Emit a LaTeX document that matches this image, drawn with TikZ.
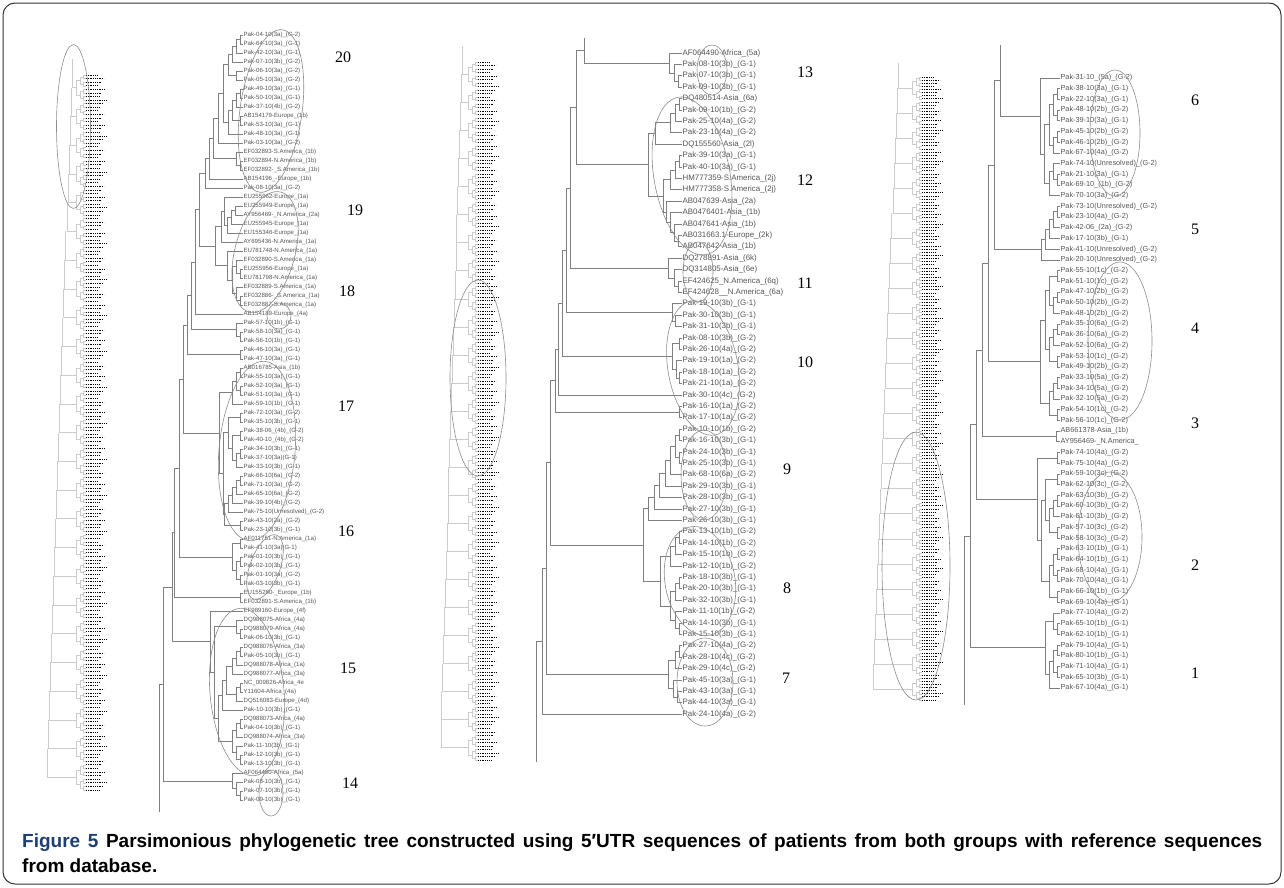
\documentclass[tikz,border=0pt]{standalone}
\usepackage{fontspec}
\setmainfont{Liberation Serif}
\newfontfamily\sansf{Liberation Sans}
\usetikzlibrary{calc}
\definecolor{brgrey}{HTML}{808080}
\definecolor{labgrey}{HTML}{555555}
\definecolor{thgrey}{HTML}{CCCCCC}
\definecolor{elgrey}{HTML}{8C8C8C}
\definecolor{figblue}{HTML}{1F3F73}
\newcommand\nd[4]{%
  \path let \p1=($(#3)!0.5!(#4)$) in coordinate (#1) at (#2pt,\y1);
  \draw[br] (#3) -- (#3 -| #1) -- (#4 -| #1) -- (#4);}
\newcommand\thumb[6]{%
 \pgfmathsetmacro\ts{(#5-#4)/#6}
 \foreach \i in {0,...,#6}{
  \pgfmathsetmacro\yy{#4+\i*\ts}
  \pgfmathsetmacro\ww{11+mod(\i*37,10)}
  \draw[thdot] (#3,\yy) -- ++(\ww,0);
  \draw[thbr] (#3-3,\yy) -- (#3,\yy);
  \pgfmathtruncatemacro\mtwo{mod(\i,2)}
  \pgfmathtruncatemacro\mfour{mod(\i,4)}
  \pgfmathtruncatemacro\meight{mod(\i,8)}
  \ifnum\mtwo=0 \draw[thbr] (#3-3,\yy) -- (#3-3,{\yy+\ts}) (#3-3,{\yy+0.5*\ts}) -- (#3-6,{\yy+0.5*\ts});\fi
  \ifnum\mfour=0 \draw[thbr] (#3-6,{\yy+0.5*\ts}) -- (#3-6,{\yy+2.5*\ts}) (#3-6,{\yy+1.5*\ts}) -- (#3-10,{\yy+1.5*\ts});\fi
  \ifnum\meight=0
    \pgfmathsetmacro\xb{#2+(#1-#2)*\i/#6}
    \draw[thbr] (#3-10,{\yy+1.5*\ts}) -- (#3-10,{\yy+5.5*\ts}) (#3-10,{\yy+3.5*\ts}) -- (\xb,{\yy+3.5*\ts}) -- (\xb,{\yy-4.5*\ts});
  \fi
 }}
\begin{document}
\begin{tikzpicture}[x=1pt,y=-1pt,
  br/.style={draw=brgrey,line width=0.7pt},
  thbr/.style={draw=thgrey,line width=0.5pt},
  thdot/.style={draw=black,line width=0.9pt,dash pattern=on 0.9pt off 0.9pt},
  ell/.style={draw=elgrey,line width=0.6pt},
  labL/.style={anchor=west,inner sep=0.4pt,text=labgrey,font=\sansf\fontsize{6.1}{6.1}\selectfont},
  labM/.style={labL,font=\sansf\fontsize{7.9}{7.9}\selectfont},
  labR/.style={labL,font=\sansf\fontsize{7.3}{7.3}\selectfont},
  num/.style={font=\fontsize{16}{16}\selectfont,inner sep=0pt}]
\useasboundingbox (0,0) rectangle (1284,887);
\draw[draw=black!80,line width=1pt,rounded corners=12pt] (3,3) rectangle (1281,884);

% thumbnails
\thumb{46}{72}{86}{75}{790}{199}
\thumb{440}{462}{478}{62}{760}{199}
\thumb{872}{898}{922}{77}{700}{199}
\draw[ell] (73.5,126.5) ellipse [x radius=17pt,y radius=82pt];
\draw[ell] (478,378) ellipse [x radius=28pt,y radius=98pt];
\draw[ell] (916,566) ellipse [x radius=34pt,y radius=134pt];

% ---------------- left panel
\begin{scope}[xshift=243pt]
\foreach \t [count=\i] in {Pak-04-10(3a)\_(G-2),Pak-64-10(3a)\_(G-1),Pak-42-10(3a)\_(G-1),Pak-07-10(3b)\_(G-2),Pak-06-10(3a)\_(G-2),Pak-05-10(3a)\_(G-2),Pak-49-10(3a)\_(G-1),Pak-50-10(3a)\_(G-1),Pak-37-10(4b)\_(G-2),AB154179-Europe\_(1b),Pak-53-10(3a)\_(G-1),Pak-48-10(3a)\_(G-1),Pak-03-10(3a)\_(G-2),EF032893-S.America\_(1b),EF032894-N.America\_(1b),EF032892-\_S.America\_(1b),AB154196\_-Europe\_(1b),Pak-08-10(3a)\_(G-2),EU255962-Europe\_(1a),EU255949-Europe\_(1a),AY956469-\_N.America\_(2a),EU255945-Europe\_(1a),EU155346-Europe\_(1a),AY695436-N.America\_(1a),EU781748-N.America\_(1a),EF032890-S.America\_(1a),EU255956-Europe\_(1a),EU781798-N.America\_(1a),EF032889-S.America\_(1a),EF032886-\_S.America\_(1a),EF032887-S.America\_(1a),AB154189-Europe\_(4a),Pak-57-10(1b)\_(G-1),Pak-58-10(3a)\_(G-1),Pak-56-10(1b)\_(G-1),Pak-46-10(3a)\_(G-1),Pak-47-10(3a)\_(G-1),AB016785-Asia\_(1b),Pak-55-10(3a)\_(G-1),Pak-52-10(3a)\_(G-1),Pak-51-10(3a)\_(G-1),Pak-59-10(1b)\_(G-1),Pak-72-10(3a)\_(G-2),Pak-35-10(3b)\_(G-1),Pak-38-06\_(4b)\_(G-2),Pak-40-10\_(4b)\_(G-2),Pak-34-10(3b)\_(G-1),Pak-37-10(3a)(G-1),Pak-33-10(3b)\_(G-1),Pak-66-10(6a)\_(G-2),Pak-71-10(3a)\_(G-2),Pak-65-10(6a)\_(G-2),Pak-39-10(4b)\_(G-2),Pak-75-10(Unresolved)\_(G-2),Pak-43-10(2a)\_(G-2),Pak-23-10(3b)\_(G-1),AF011751-N.America\_(1a),Pak-41-10(3a)(G-1),Pak-01-10(3b)\_(G-1),Pak-02-10(3b)\_(G-1),Pak-01-10(3a)\_(G-2),Pak-03-10(3b)\_(G-1),EU155280-\_Europe\_(1b),EF032891-S.America\_(1b),EF989160-Europe\_(4f),DQ988075-Africa\_(4a),DQ988079-Africa\_(4a),Pak-06-10(3b)\_(G-1),DQ988076-Africa\_(3a),Pak-05-10(3b)\_(G-1),DQ988078-Africa\_(1a),DQ988077-Africa\_(3a),NC\_009826-Africa\_4e,Y11604-Africa\_(4a),DQ516083-Europe\_(4d),Pak-10-10(3b)\_(G-1),DQ988073-Africa\_(4a),Pak-04-10(3b)\_(G-1),DQ988074-Africa\_(3a),Pak-11-10(3b)\_(G-1),Pak-12-10(3b)\_(G-1),Pak-13-10(3b)\_(G-1),AF064490-Africa\_(5a),Pak-08-10(3b)\_(G-1),Pak-07-10(3b)\_(G-1),Pak-09-10(3b)\_(G-1)}{
  \coordinate (a\i) at (0,{35+9*(\i-1)});
  \node[labL] (A\i) at (0,{35+9*(\i-1)}) {\t};
}
\nd{p1}{-2.5}{a1}{a2}
\nd{p2}{-6.5}{p1}{a3}
\nd{p3}{-10.5}{p2}{a4}
\nd{p4}{-6.5}{a5}{a6}
\nd{p5}{-15}{p3}{p4}
\nd{p6}{-2.5}{a7}{a8}
\nd{p7}{-6.5}{p6}{a9}
\nd{p8}{-2.5}{a10}{a11}
\nd{p9}{-10.5}{p7}{p8}
\nd{p10}{-15}{p9}{a12}
\nd{p11}{-20}{p5}{p10}
\nd{p12}{-25}{p11}{a13}
\nd{p13}{-2.5}{a15}{a16}
\nd{p14}{-6.5}{a14}{p13}
\nd{p15}{-30}{p12}{p14}
\nd{p16}{-34}{p15}{a17}
\nd{p17}{-38}{p16}{a18}
\nd{q1}{-8}{a20}{a21}
\nd{q2}{-12}{q1}{a22}
\nd{q3}{-16}{q2}{a23}
\nd{q4}{-19}{a19}{q3}
\nd{q5}{-22}{q4}{a24}
\nd{q6}{-3}{a27}{a28}
\nd{q7}{-7}{a26}{q6}
\nd{q8}{-3}{a30}{a31}
\nd{q9}{-7}{a29}{q8}
\nd{q10}{-11}{q7}{q9}
\nd{q11}{-16}{a25}{q10}
\nd{q12}{-28}{q5}{q11}
\nd{b1}{-44}{p17}{q12}
\nd{b2}{-48}{b1}{a32}
\nd{s1}{-2.5}{a34}{a35}
\nd{s2}{-6.5}{a33}{s1}
\nd{b3}{-52}{b2}{s2}
\nd{s3}{-2.5}{a36}{a37}
\nd{b4}{-56}{b3}{s3}
\nd{t1}{-2.5}{a38}{a39}
\nd{t2}{-2.5}{a40}{a41}
\nd{t3}{-6.5}{t1}{t2}
\nd{t4}{-10.5}{t3}{a42}
\nd{t5}{-2.5}{a43}{a44}
\nd{t6}{-2.5}{a45}{a46}
\nd{t7}{-2.5}{a47}{a48}
\nd{t8}{-6.5}{t7}{a49}
\nd{t9}{-10.5}{t6}{t8}
\nd{t10}{-14.5}{t5}{t9}
\nd{t11}{-2.5}{a50}{a51}
\nd{t12}{-6.5}{t11}{a52}
\nd{t13}{-10.5}{t12}{a53}
\nd{t14}{-14.5}{t13}{a54}
\nd{t15}{-2.5}{a55}{a56}
\nd{t16}{-18.5}{t14}{t15}
\nd{t17}{-20}{t10}{t16}
\nd{t18}{-24}{t4}{t17}
\nd{b5}{-60}{b4}{t18}
\nd{u1}{-2.5}{a57}{a58}
\nd{u2}{-2.5}{a59}{a60}
\nd{u3}{-2.5}{a61}{a62}
\nd{u4}{-6.5}{u2}{u3}
\nd{u5}{-10.5}{u1}{u4}
\nd{u6}{-2.5}{a63}{a64}
\nd{b6}{-64}{b5}{u5}
\nd{b7}{-69}{b6}{u6}
\nd{v1}{-3}{a67}{a68}
\nd{v2}{-7}{a66}{v1}
\nd{v3}{-3}{a69}{a70}
\nd{v4}{-7}{v3}{a71}
\nd{v5}{-11}{v4}{a72}
\nd{v6}{-3}{a73}{a74}
\nd{v7}{-7}{v6}{a75}
\nd{v8}{-17}{v5}{v7}
\nd{v9}{-21}{v8}{a76}
\nd{v10}{-3}{a77}{a78}
\nd{v11}{-7}{v10}{a79}
\nd{v12}{-3}{a81}{a82}
\nd{v13}{-7}{a80}{v12}
\nd{v14}{-11}{v11}{v13}
\nd{v15}{-25}{v9}{v14}
\nd{v16}{-29}{v2}{v15}
\nd{v17}{-33}{a65}{v16}
\nd{b8}{-71}{b7}{v17}
\nd{w1}{-3}{a85}{a86}
\nd{w2}{-7}{a84}{w1}
\nd{w3}{-11}{a83}{w2}
\nd{b9}{-80}{b8}{w3}
\coordinate (aend) at (-84,812);
\draw[br] (b9) -| (aend);
\end{scope}
\draw[ell,rotate around={-8:(271,111)}] (271,111) ellipse [x radius=31pt,y radius=82pt];
\draw[ell,rotate around={-15:(265,252)}] (265,252) ellipse [x radius=30pt,y radius=62pt];
\draw[ell] (279,316) ellipse [x radius=12pt,y radius=13pt];
\draw[ell,rotate around={-5:(257,451)}] (257,451) ellipse [x radius=38pt,y radius=90pt];
\draw[ell,rotate around={-20:(265,567)}] (265,567) ellipse [x radius=15pt,y radius=34pt];
\draw[ell,rotate around={5:(247,692)}] (247,692) ellipse [x radius=37pt,y radius=84pt];
\draw[ell] (271,793) ellipse [x radius=12pt,y radius=23pt];
\node[num] (n20) at (343,57) {20};
\node[num] (n19) at (355,210) {19};
\node[num] (n18) at (347,291) {18};
\node[num] (n17) at (346,406) {17};
\node[num] (n16) at (346,531) {16};
\node[num] (n15) at (348,668) {15};
\node[num] (n14) at (350,783) {14};

% ---------------- middle panel
\begin{scope}[xshift=682pt]
\foreach \t [count=\i] in {AF064490-Africa\_(5a),Pak-08-10(3b)\_(G-1),Pak-07-10(3b)\_(G-1),Pak-09-10(3b)\_(G-1),DQ480514-Asia\_(6a),Pak-09-10(1b)\_(G-2),Pak-25-10(4a)\_(G-2),Pak-23-10(4a)\_(G-2),DQ155560-Asia\_(2l),Pak-39-10(3a)\_(G-1),Pak-40-10(3a)\_(G-1),HM777359-S.America\_(2j),HM777358-S.America\_(2j),AB047639-Asia\_(2a),AB0476401-Asia\_(1b),AB047641-Asia\_(1b),AB031663.1-Europe\_(2k),AB047642-Asia\_(1b),DQ278891-Asia\_(6k),DQ314805-Asia\_(6e),EF424625\_N.America\_(6q),EF424628\_\_N.America\_(6a),Pak-19-10(3b)\_(G-1),Pak-30-10(3b)\_(G-1),Pak-31-10(3b)\_(G-1),Pak-08-10(3b)\_(G-2),Pak-26-10(4a)\_(G-2),Pak-19-10(1a)\_(G-2),Pak-18-10(1a)\_(G-2),Pak-21-10(1a)\_(G-2),Pak-30-10(4c)\_(G-2),Pak-16-10(1a)\_(G-2),Pak-17-10(1a)\_(G-2),Pak-10-10(1b)\_(G-2),Pak-16-10(3b)\_(G-1),Pak-24-10(3b)\_(G-1),Pak-25-10(3b)\_(G-1),Pak-68-10(6a)\_(G-2),Pak-29-10(3b)\_(G-1),Pak-28-10(3b)\_(G-1),Pak-27-10(3b)\_(G-1),Pak-26-10(3b)\_(G-1),Pak-13-10(1b)\_(G-2),Pak-14-10(1b)\_(G-2),Pak-15-10(1b)\_(G-2),Pak-12-10(1b)\_(G-2),Pak-18-10(3b)\_(G-1),Pak-20-10(3b)\_(G-1),Pak-32-10(3b)\_(G-1),Pak-11-10(1b)\_(G-2),Pak-14-10(3b)\_(G-1),Pak-15-10(3b)\_(G-1),Pak-27-10(4a)\_(G-2),Pak-28-10(4c)\_(G-2),Pak-29-10(4c)\_(G-2),Pak-45-10(3a)\_(G-1),Pak-43-10(3a)\_(G-1),Pak-44-10(3a)\_(G-1),Pak-24-10(4a)\_(G-2)}{
  \coordinate (m\i) at (0,{53+11.4*(\i-1)});
  \node[labM] (M\i) at (0,{53+11.4*(\i-1)}) {\t};
}
\nd{mA1}{-4}{m3}{m4}
\nd{mA2}{-8}{m2}{mA1}
\nd{mA3}{-13}{m1}{mA2}
\nd{mB1}{-3}{m5}{m6}
\nd{mB2}{-7}{mB1}{m7}
\nd{mB3}{-12}{mB2}{m8}
\nd{mB4}{-3}{m10}{m11}
\nd{mB5}{-7}{mB4}{m12}
\nd{mB6}{-12}{mB5}{m13}
\nd{mB7}{-4}{m17}{m18}
\nd{mB8}{-8}{m16}{mB7}
\nd{mB9}{-12}{m15}{mB8}
\nd{mB10}{-16}{m14}{mB9}
\nd{mB11}{-19}{mB6}{mB10}
\nd{mB12}{-27}{mB3}{m9}
\nd{mB13}{-34}{mB12}{mB11}
\nd{mC1}{-4}{m21}{m22}
\nd{mC2}{-8}{m20}{mC1}
\nd{mC3}{-14}{m19}{mC2}
\nd{mD1}{-7}{m24}{m25}
\nd{mD2}{-10}{m23}{mD1}
\nd{mD3}{-3}{m26}{m27}
\nd{mD4}{-3}{m29}{m30}
\nd{mD5}{-6}{m28}{mD4}
\nd{mD6}{-10}{mD3}{mD5}
\nd{mD7}{-3}{m32}{m33}
\nd{mE1}{-3}{m34}{m35}
\nd{mE2}{-3}{m36}{m37}
\nd{mE3}{-7}{mE1}{mE2}
\nd{mE4}{-12}{mE3}{m38}
\nd{mE5}{-17}{mE4}{m39}
\nd{mE6}{-23}{mE5}{m40}
\nd{mE7}{-28}{mE6}{m41}
\nd{mE8}{-34}{mE7}{m42}
\nd{mF1}{-3}{m43}{m44}
\nd{mF2}{-7}{mF1}{m45}
\nd{mF3}{-12}{mF2}{m46}
\nd{mF4}{-3}{m47}{m48}
\nd{mF5}{-7}{mF4}{m49}
\nd{mF6}{-3}{m51}{m52}
\nd{mF7}{-7}{m50}{mF6}
\nd{mF8}{-12}{mF5}{mF7}
\nd{mF9}{-22}{mF3}{mF8}
\nd{mF10}{-39}{mE8}{mF9}
\nd{mG1}{-3}{m53}{m54}
\nd{mG2}{-7}{mG1}{m55}
\nd{mG3}{-5}{m57}{m58}
\nd{mG4}{-9}{m56}{mG3}
\nd{mG5}{-14}{mG2}{mG4}
\coordinate (mtop) at (-98,38);
\nd{X1}{-98}{mtop}{mA3}
\nd{X2}{-106}{X1}{mB13}
\nd{X3}{-112}{X2}{mC3}
\nd{X4}{-116}{X3}{mD2}
\nd{X5}{-120}{X4}{mD6}
\nd{X6}{-124}{X5}{m31}
\nd{X7}{-127}{X6}{mD7}
\nd{X8}{-132}{X7}{mF10}
\nd{X9}{-136}{X8}{mG5}
\nd{X10}{-140}{X9}{m59}
\coordinate (mbot) at (-146,762);
\draw[br] (X10) -| (mbot);
\end{scope}
\draw[ell] (712,70) ellipse [x radius=15pt,y radius=25pt];
\draw[ell,rotate around={10:(692,176)}] (692,176) ellipse [x radius=38pt,y radius=80pt];
\draw[ell] (698,272) ellipse [x radius=15pt,y radius=30pt];
\draw[ell,rotate around={10:(703,368)}] (703,368) ellipse [x radius=35pt,y radius=68pt];
\draw[ell] (704,475) ellipse [x radius=23pt,y radius=45pt];
\draw[ell,rotate around={10:(700,581)}] (700,581) ellipse [x radius=35pt,y radius=55pt];
\draw[ell] (705,682) ellipse [x radius=28pt,y radius=44pt];
\node[num] (n13) at (805,72) {13};
\node[num] (n12) at (805,180) {12};
\node[num] (n11) at (805,283) {11};
\node[num] (n10) at (805,362) {10};
\node[num] (n9) at (787,469) {9};
\node[num] (n8) at (787,588) {8};
\node[num] (n7) at (786,678) {7};

% ---------------- right panel
\begin{scope}[xshift=1060pt]
\foreach \t [count=\i] in {Pak-31-10\_(5a)\_(G-2),Pak-38-10(3a)\_(G-1),Pak-22-10(3a)\_(G-1),Pak-48-10(2b)\_(G-2),Pak-39-10(3a)\_(G-1),Pak-45-10(2b)\_(G-2),Pak-46-10(2b)\_(G-2),Pak-67-10(4a)\_(G-2),Pak-74-10(Unresolved)\_(G-2),Pak-21-10(3a)\_(G-1),Pak-69-10\_(1b)\_(G-2),Pak-70-10(3a)\_(G-2),Pak-73-10(Unresolved)\_(G-2),Pak-23-10(4a)\_(G-2),Pak-42-06\_(2a)\_(G-2),Pak-17-10(3b)\_(G-1),Pak-41-10(Unresolved)\_(G-2),Pak-20-10(Unresolved)\_(G-2),Pak-55-10(1c)\_(G-2),Pak-51-10(1c)\_(G-2),Pak-47-10(2b)\_(G-2),Pak-50-10(2b)\_(G-2),Pak-48-10(2b)\_(G-2),Pak-35-10(6a)\_(G-2),Pak-36-10(6a)\_(G-2),Pak-52-10(6a)\_(G-2),Pak-53-10(1c)\_(G-2),Pak-49-10(2b)\_(G-2),Pak-33-10(5a)\_(G-2),Pak-34-10(5a)\_(G-2),Pak-32-10(5a)\_(G-2),Pak-54-10(1c)\_(G-2),Pak-56-10(1c)\_(G-2),AB661378-Asia\_(1b),AY956469-\_N.America\_,Pak-74-10(4a)\_(G-2),Pak-75-10(4a)\_(G-2),Pak-59-10(3c)\_(G-2),Pak-62-10(3c)\_(G-2),Pak-63-10(3b)\_(G-2),Pak-60-10(3b)\_(G-2),Pak-61-10(3b)\_(G-2),Pak-57-10(3c)\_(G-2),Pak-58-10(3c)\_(G-2),Pak-63-10(1b)\_(G-1),Pak-64-10(1b)\_(G-1),Pak-68-10(4a)\_(G-1),Pak-70-10(4a)\_(G-1),Pak-66-10(1b)\_(G-1),Pak-69-10(4a)\_(G-1),Pak-77-10(4a)\_(G-2),Pak-65-10(1b)\_(G-1),Pak-62-10(1b)\_(G-1),Pak-79-10(4a)\_(G-1),Pak-80-10(1b)\_(G-1),Pak-71-10(4a)\_(G-1),Pak-65-10(3b)\_(G-1),Pak-67-10(4a)\_(G-1)}{
  \coordinate (c\i) at (0,{78+10.7*(\i-1)});
  \node[labR] (R\i) at (0,{78+10.7*(\i-1)}) {\t};
}
\nd{rA1}{-3}{c2}{c3}
\nd{rA2}{-3}{c4}{c5}
\nd{rA3}{-7}{rA1}{rA2}
\nd{rA4}{-3}{c6}{c7}
\nd{rA5}{-7}{rA4}{c8}
\nd{rA6}{-11}{rA3}{rA5}
\nd{rA7}{-3}{c10}{c11}
\nd{rA8}{-7}{c9}{rA7}
\nd{rA9}{-11}{rA8}{c12}
\nd{rA10}{-16}{rA6}{rA9}
\nd{rA11}{-20}{c1}{rA10}
\nd{rB1}{-3}{c13}{c14}
\nd{rB2}{-7}{rB1}{c15}
\nd{rB3}{-11}{rB2}{c16}
\nd{rB4}{-15}{rB3}{c17}
\nd{rB5}{-19}{rB4}{c18}
\nd{rC1}{-3}{c19}{c20}
\nd{rC2}{-3}{c21}{c22}
\nd{rC3}{-7}{rC2}{c23}
\nd{rC4}{-11}{rC1}{rC3}
\nd{rC5}{-3}{c24}{c25}
\nd{rC6}{-7}{rC5}{c26}
\nd{rC7}{-3}{c27}{c28}
\nd{rC8}{-11}{rC6}{rC7}
\nd{rC9}{-15}{rC4}{rC8}
\nd{rC10}{-3}{c29}{c30}
\nd{rC11}{-7}{rC10}{c31}
\nd{rC12}{-3}{c32}{c33}
\nd{rC13}{-11}{rC11}{rC12}
\nd{rC14}{-20}{rC9}{rC13}
\nd{rD1}{-4}{c34}{c35}
\nd{rE1}{-3}{c36}{c37}
\nd{rE2}{-3}{c38}{c39}
\nd{rE3}{-3}{c40}{c41}
\nd{rE4}{-7}{rE3}{c42}
\nd{rE5}{-3}{c43}{c44}
\nd{rE6}{-11}{rE4}{rE5}
\nd{rE7}{-15}{rE2}{rE6}
\nd{rE8}{-3}{c45}{c46}
\nd{rE9}{-3}{c47}{c48}
\nd{rE10}{-7}{rE8}{rE9}
\nd{rE11}{-3}{c49}{c50}
\nd{rE12}{-11}{rE10}{rE11}
\nd{rE13}{-19}{rE7}{rE12}
\nd{rE14}{-23}{rE1}{rE13}
\nd{rF1}{-3}{c52}{c53}
\nd{rF2}{-7}{c51}{rF1}
\nd{rF3}{-3}{c54}{c55}
\nd{rF4}{-3}{c56}{c57}
\nd{rF5}{-7}{rF3}{rF4}
\nd{rF6}{-11}{rF5}{c58}
\nd{rF7}{-15}{rF2}{rF6}
\coordinate (rtop) at (-60,45);
\nd{Y1}{-60}{rtop}{rA11}
\nd{Y2}{-66}{Y1}{rB5}
\nd{Y3}{-72}{Y2}{rC14}
\nd{Y4}{-78}{Y3}{rD1}
\nd{Y5}{-84}{Y4}{rE14}
\nd{Y6}{-90}{Y5}{rF7}
\coordinate (rbot) at (-96,705);
\draw[br] (Y6) -| (rbot);
\draw[ell] (55,133) ellipse [x radius=25pt,y radius=63pt];
\draw[ell] (60,341) ellipse [x radius=32pt,y radius=79pt];
\draw[ell] (50,537) ellipse [x radius=32pt,y radius=65pt];
\end{scope}
\node[num] (n6) at (1195,100) {6};
\node[num] (n5) at (1195,229) {5};
\node[num] (n4) at (1195,328) {4};
\node[num] (n3) at (1195,423) {3};
\node[num] (n2) at (1195,565) {2};
\node[num] (n1) at (1195,673) {1};

% caption
\node[anchor=north west,inner sep=0pt,text width=1240pt,align=justify,font=\sansf\bfseries\fontsize{19}{25}\selectfont] (cap) at (22,834) {\textcolor{figblue}{Figure 5} Parsimonious phylogenetic tree constructed using 5′UTR sequences of patients from both groups with reference sequences\linebreak from database.};
\end{tikzpicture}
\end{document}
